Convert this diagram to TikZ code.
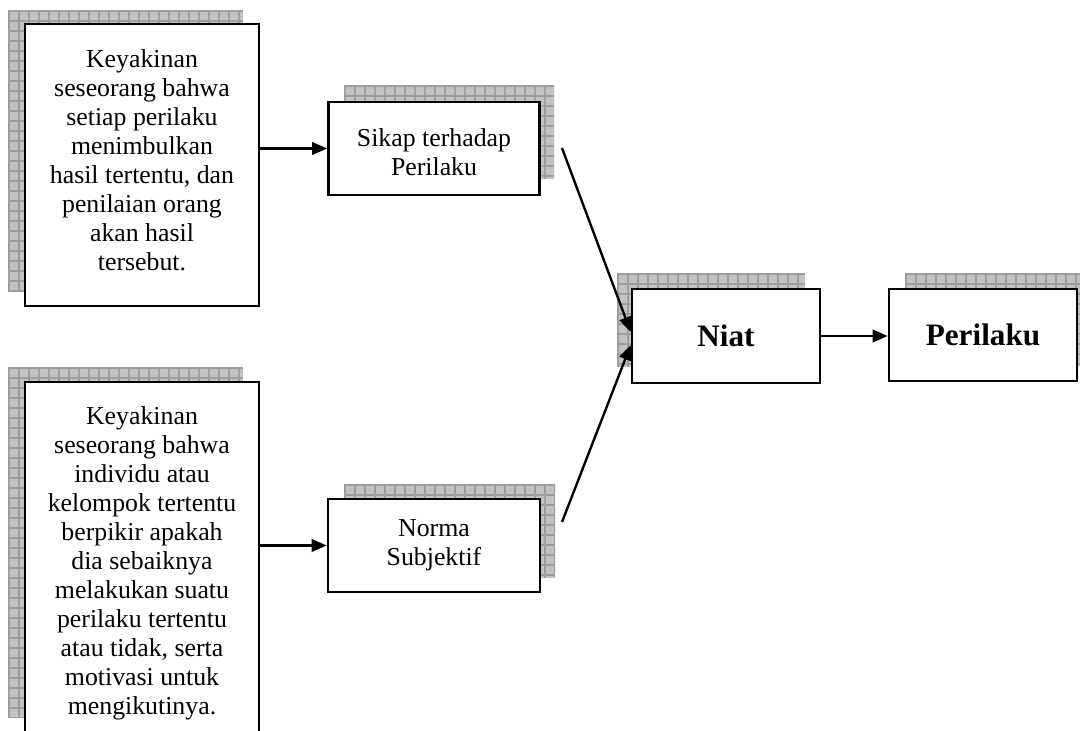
\documentclass[tikz,border=0pt]{standalone}
\usepackage{fontspec}
\setmainfont{Liberation Serif}
\usetikzlibrary{arrows.meta,calc}
\def\pxu{0.465pt}
\definecolor{shfill}{gray}{0.76}
\definecolor{shline}{gray}{0.62}
\newcommand{\shadowrect}[4]{%
  \begin{scope}
    \clip (#1,#2) rectangle (#3,#4);
    \fill[shfill] (#1,#2) rectangle (#3,#4);
    \foreach \i in {0,10,...,400} {
      \draw[shline,line width=0.5pt] ({#1+1+\i},#2) -- ({#1+1+\i},#4);
      \draw[shline,line width=0.5pt] (#1,{#2+1+\i}) -- (#3,{#2+1+\i});
    }
  \end{scope}}
\tikzset{
  boxnode/.style={draw=black,fill=white,line width=1.2pt,inner sep=0pt},
  txt/.style={align=center,inner sep=0pt,font=\fontsize{12}{13.5}\selectfont},
  btxt/.style={align=center,inner sep=0pt,font=\fontsize{14.5}{17}\selectfont\bfseries},
  arr/.style={line width=1.1pt,-{Triangle[length=7pt,width=5.8pt]}}
}
\begin{document}
\begin{tikzpicture}[x=\pxu,y=-\pxu]
\useasboundingbox (0,0) rectangle (1080,731);
\clip (0,0) rectangle (1080,731);
% shadows
\shadowrect{8}{10}{243}{292}
\shadowrect{8}{367}{243}{717}
\shadowrect{344}{85}{554}{179}
\shadowrect{344}{484}{555}{578}
\shadowrect{617}{273}{805}{367}
\shadowrect{905}{273}{1085}{366}
% boxes
\node[boxnode,minimum width=234*\pxu,minimum height=282*\pxu] (b1) at (142,165) {};
\node[boxnode,minimum width=234*\pxu,minimum height=390*\pxu] (b2) at (142,577) {};
\node[boxnode,minimum width=211*\pxu,minimum height=93*\pxu] (s) at (434,148.5) {};
\node[boxnode,minimum width=212*\pxu,minimum height=93*\pxu] (n) at (434,545.5) {};
\node[boxnode,minimum width=188*\pxu,minimum height=94*\pxu] (niat) at (726,336) {};
\node[boxnode,minimum width=188*\pxu,minimum height=92*\pxu] (per) at (983,335) {};
% texts
\node[txt] (b1t) at (142,160) {Keyakinan\\seseorang bahwa\\setiap perilaku\\menimbulkan\\hasil tertentu, dan\\penilaian orang\\akan hasil\\tersebut.};
\node[txt] (b2t) at (142,563) {Keyakinan\\seseorang bahwa\\individu atau\\kelompok tertentu\\berpikir apakah\\dia sebaiknya\\melakukan suatu\\perilaku tertentu\\atau tidak, serta\\motivasi untuk\\mengikutinya.};
\node[txt] (st) at (434,152) {Sikap terhadap\\Perilaku};
\node[txt] (nt) at (434,545) {Norma\\Subjektif};
\node[btxt] (niatt) at (726,336) {Niat};
\node[btxt] (pert) at (983,335) {Perilaku};
% connectors
\coordinate (c1) at (562,148);
\coordinate (c2) at (562,522);
\draw[arr] (b1.east |- s.west) -- (s.west);
\draw[arr] (b2.east |- n.west) -- (n.west);
\draw[arr] (c1) -- ($(niat.west)+(0,-4)$);
\draw[arr] (c2) -- ($(niat.west)+(0,9)$);
\draw[arr] (niat.east) -- (niat.east -| per.west);
\end{tikzpicture}
\end{document}
